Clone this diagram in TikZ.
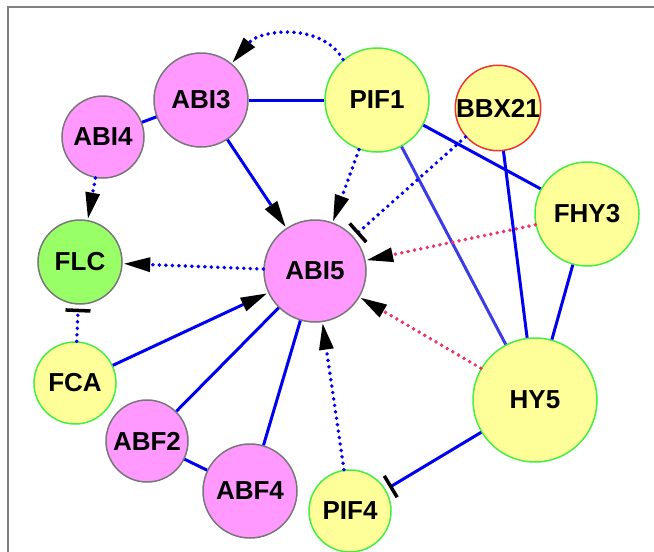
\documentclass[tikz,border=0pt]{standalone}
\usepackage{fontspec}
\setmainfont{Liberation Sans}
\usetikzlibrary{arrows.meta}
\definecolor{pinkfill}{RGB}{255,153,255}
\definecolor{yelfill}{RGB}{255,255,153}
\definecolor{flcfill}{RGB}{153,255,102}
\definecolor{grayedge}{RGB}{119,119,119}
\definecolor{greenedge}{RGB}{68,238,68}
\definecolor{rededge}{RGB}{238,51,51}
\definecolor{edgeblue}{RGB}{0,0,240}
\definecolor{softblue}{RGB}{60,60,230}
\definecolor{pinkdot}{RGB}{238,51,102}
\definecolor{framegray}{RGB}{128,128,128}
\tikzset{
  gene/.style={circle,inner sep=0pt,line width=1.5pt,font=\bfseries\fontsize{26}{26}\selectfont},
  pinkgene/.style={gene,fill=pinkfill,draw=grayedge},
  yelgene/.style={gene,fill=yelfill,draw=greenedge},
  redgene/.style={gene,fill=yelfill,draw=rededge},
  flcgene/.style={gene,fill=flcfill,draw=grayedge},
  solidedge/.style={draw=edgeblue,line width=3pt},
  dotedge/.style={draw=edgeblue,line width=3.9pt,line cap=round,dash pattern=on 0pt off 6.5pt},
  pinkedge/.style={dotedge,draw=pinkdot},
  activ/.style={-{Triangle[black,length=26pt,width=15pt,line width=0pt]},shorten >=1.5pt},
  inhib/.style={-{Bar[black,width=25pt,line width=3.5pt]},shorten >=4pt}
}
\begin{document}
\begin{tikzpicture}[x=1pt,y=1pt]
\useasboundingbox (0,0) rectangle (654,-552);
\draw[framegray,line width=1.5pt] (654,-7) -- (8,-7) -- (8,-552);
% nodes
\node[pinkgene,minimum size=94pt] (abi3) at (201,-100) {ABI3};
\node[yelgene,minimum size=104pt] (pif1) at (377,-100) {PIF1};
\node[redgene,minimum size=82pt] (bbx21) at (498,-108) {BBX21};
\node[pinkgene,minimum size=82pt] (abi4) at (103,-137) {ABI4};
\node[flcgene,minimum size=84pt] (flc) at (80,-262) {FLC};
\node[pinkgene,minimum size=102pt] (abi5) at (315,-271) {ABI5};
\node[yelgene,minimum size=104pt] (fhy3) at (587,-214) {FHY3};
\node[yelgene,minimum size=82pt] (fca) at (75,-383) {FCA};
\node[yelgene,minimum size=124pt] (hy5) at (535,-400) {HY5};
\node[pinkgene,minimum size=82pt] (abf2) at (147,-441) {ABF2};
\node[pinkgene,minimum size=94pt] (abf4) at (250,-491) {ABF4};
\node[yelgene,minimum size=82pt] (pif4) at (350,-511) {PIF4};
% solid edges
\draw[solidedge] (abi3) -- (pif1);
\draw[solidedge] (abi3) -- (abi4);
\draw[solidedge,activ] (abi3) -- (abi5);
\draw[solidedge] (pif1) -- (fhy3);
\draw[solidedge,draw=softblue] (pif1) -- (hy5);
\draw[solidedge] (bbx21) -- (hy5);
\draw[solidedge] (fhy3) -- (hy5);
\draw[solidedge,inhib] (hy5) -- (pif4);
\draw[solidedge,activ] (fca) -- (abi5);
\draw[solidedge] (abf2) -- (abi5);
\draw[solidedge] (abf4) -- (abi5);
\draw[solidedge] (abf2) -- (abf4);
% dotted edges
\draw[dotedge,activ] (pif1.130) to[out=120,in=50] (abi3.50);
\draw[dotedge,activ] (abi4) -- (flc);
\draw[dotedge,activ] (pif1) -- (abi5);
\draw[dotedge,inhib] (bbx21) -- (abi5);
\draw[dotedge,activ] (abi5) -- (flc);
\draw[dotedge,inhib] (fca) -- (flc);
\draw[dotedge,activ] (pif4) -- (abi5);
\draw[pinkedge,activ] (fhy3) -- (abi5);
\draw[pinkedge,activ] (hy5) -- (abi5);
\end{tikzpicture}
\end{document}
